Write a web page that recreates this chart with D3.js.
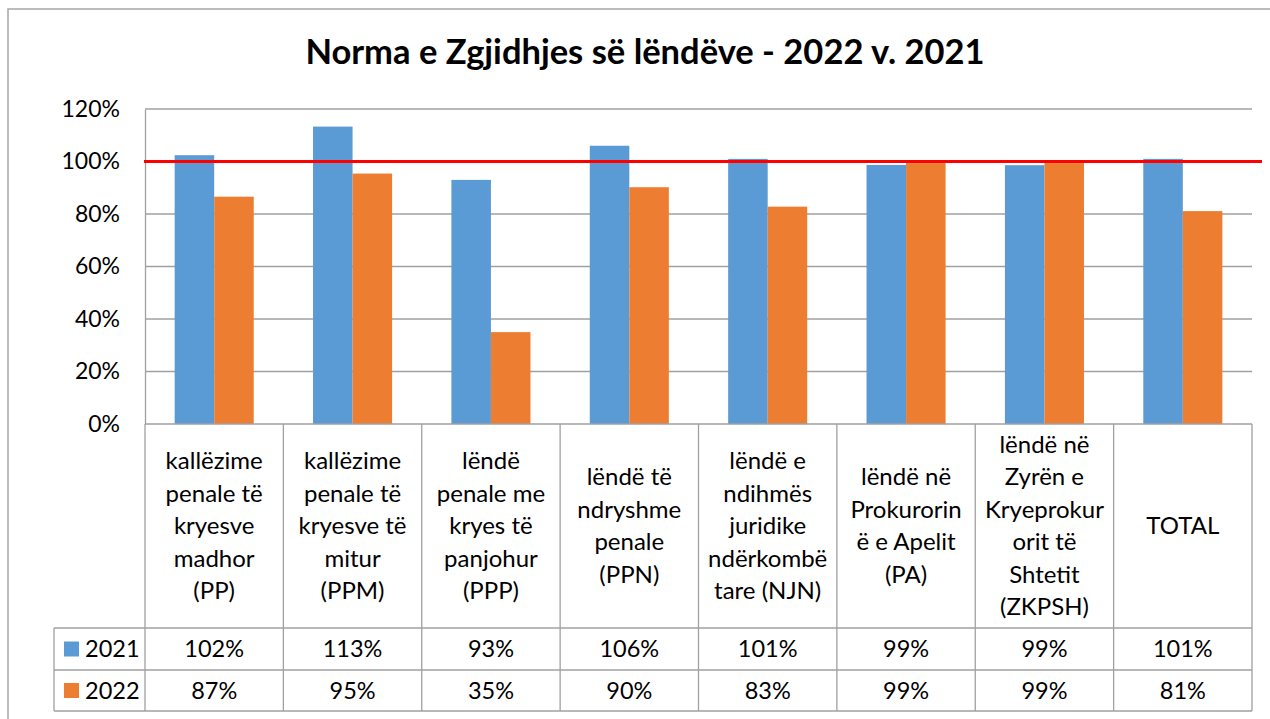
<!DOCTYPE html>
<html lang="sq">
<head>
<meta charset="UTF-8">
<script src="https://d3js.org/d3.v7.min.js"></script>
<style>
  body { margin: 0; background: #fff; }
  text { font-family: Lato, "Open Sans", sans-serif; fill: #000; }
</style>
</head>
<body>
<script>
// data
const categories = [
  "kallëzime\npenale të\nkryesve\nmadhor\n(PP)",
  "kallëzime\npenale të\nkryesve të\nmitur\n(PPM)",
  "lëndë\npenale me\nkryes të\npanjohur\n(PPP)",
  "lëndë të\nndryshme\npenale\n(PPN)",
  "lëndë e\nndihmës\njuridike\nndërkombë\ntare (NJN)",
  "lëndë në\nProkurorin\në e Apelit\n(PA)",
  "lëndë në\nZyrën e\nKryeprokur\norit të\nShtetit\n(ZKPSH)",
  "TOTAL"
];
const series = ["2021", "2022"];
const values2021 = [1.024, 1.133, 0.93, 1.06, 1.01, 0.987, 0.986, 1.01];
const values2022 = [0.866, 0.954, 0.35, 0.902, 0.828, 0.994, 0.994, 0.811];
const yTicks = [0, 0.2, 0.4, 0.6, 0.8, 1.0, 1.2];
const target = 1.0;
const colors = ["#5b9bd5", "#ed7d31"];

const W = 1270, H = 719;
const plotL = 145, plotR = 1252, plotT = 109, plotB = 424;
const rowY = [424, 628, 670, 711];

const svg = d3.select("body").append("svg")
  .attr("width", W).attr("height", H);

// chart frame
svg.append("path")
  .attr("d", `M8,${H} L8,9 L${W},9`)
  .attr("fill", "none").attr("stroke", "#a6a6a6").attr("stroke-width", 1.5);

// title
svg.append("text")
  .attr("x", 645).attr("y", 64)
  .attr("text-anchor", "middle")
  .style("font-size", "34.5px").style("font-weight", "bold")
  .text("Norma e Zgjidhjes së lëndëve - 2022 v. 2021");

const x = d3.scaleBand().domain(d3.range(categories.length)).range([plotL, plotR]);
const xs = d3.scaleBand().domain(series).range([0, x.bandwidth()]).paddingOuter(0.75);
const y = d3.scaleLinear().domain([0, 1.2]).range([plotB, plotT]);

// grid lines
svg.append("g").selectAll("line").data(yTicks.slice(1)).join("line")
  .attr("x1", plotL).attr("x2", plotR)
  .attr("y1", d => y(d)).attr("y2", d => y(d))
  .attr("stroke", "#a0a0a0").attr("stroke-width", 1.3);

// y axis
const yAxis = svg.append("g")
  .attr("transform", `translate(${plotL},0)`)
  .call(d3.axisLeft(y).tickValues(yTicks).tickFormat(d3.format(".0%")).tickSize(0).tickPadding(25));
yAxis.select(".domain").attr("stroke", "#a0a0a0").attr("stroke-width", 1.3);
yAxis.selectAll("text").style("font-size", "23px").style("font-family", "Lato, sans-serif");

// bars
const all = [values2021, values2022];
series.forEach((s, si) => {
  svg.append("g").selectAll("rect").data(all[si]).join("rect")
    .attr("x", (d, i) => x(i) + xs(s))
    .attr("width", xs.bandwidth())
    .attr("y", d => y(d))
    .attr("height", d => y(0) - y(d))
    .attr("fill", colors[si]);
});

// target line at 100%
svg.append("line")
  .attr("x1", plotL - 1).attr("x2", 1262)
  .attr("y1", y(target)).attr("y2", y(target))
  .attr("stroke", "#ff0000").attr("stroke-width", 3);

// data table
const grid = svg.append("g").attr("stroke", "#a0a0a0").attr("stroke-width", 1.3);
grid.append("line").attr("x1", plotL).attr("x2", plotR).attr("y1", plotB).attr("y2", plotB);
[rowY[1], rowY[2], rowY[3]].forEach(yy => {
  grid.append("line").attr("x1", 54).attr("x2", plotR).attr("y1", yy).attr("y2", yy);
});
grid.append("line").attr("x1", 54).attr("x2", 54).attr("y1", rowY[1]).attr("y2", rowY[3]);
d3.range(categories.length + 1).forEach(i => {
  const xx = i < categories.length ? x(i) : plotR;
  grid.append("line").attr("x1", xx).attr("x2", xx).attr("y1", plotB).attr("y2", rowY[3]);
});

// category labels
const lh = 32.5;
categories.forEach((c, i) => {
  const lines = c.split("\n");
  const cy = (rowY[0] + rowY[1]) / 2;
  const t = svg.append("text")
    .attr("text-anchor", "middle")
    .style("font-size", "24px");
  lines.forEach((ln, k) => {
    t.append("tspan")
      .attr("x", x(i) + x.bandwidth() / 2)
      .attr("y", cy + (k - (lines.length - 1) / 2) * lh + 8)
      .text(ln);
  });
});

// legend cells + values
const pct = d3.format(".0%");
series.forEach((s, si) => {
  const cy = (rowY[si + 1] + rowY[si + 2]) / 2;
  svg.append("rect")
    .attr("x", 64).attr("y", cy - 7.5).attr("width", 15).attr("height", 15)
    .attr("fill", colors[si]);
  svg.append("text")
    .attr("x", 85).attr("y", cy + 8)
    .style("font-size", "23.5px")
    .text(s);
  svg.append("g").selectAll("text").data(all[si]).join("text")
    .attr("x", (d, i) => x(i) + x.bandwidth() / 2)
    .attr("y", cy + 8)
    .attr("text-anchor", "middle")
    .style("font-size", "23.5px")
    .text(d => pct(Math.round(d * 100) / 100));
});
</script>
</body>
</html>
